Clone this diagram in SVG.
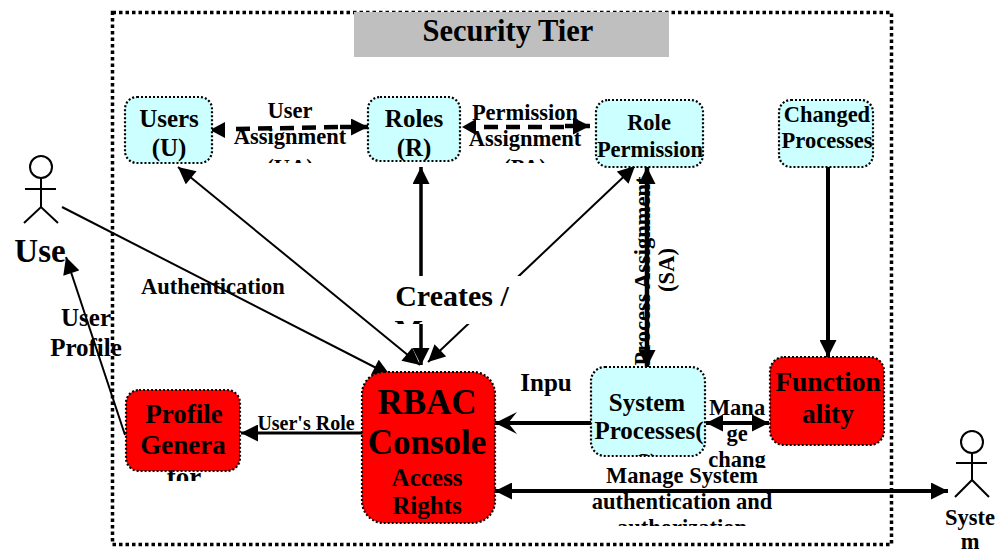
<svg xmlns="http://www.w3.org/2000/svg" width="995" height="550" viewBox="0 0 995 550">
<style>
text{font-family:"Liberation Serif","Times New Roman",serif;font-weight:bold;fill:#000;text-anchor:middle}
.n{stroke:#000;stroke-width:2.2;stroke-dasharray:2 2}
.c{fill:#ccffff}.r{fill:#ff0000}
.l{fill:none;stroke:#000}
.t20{font-size:22.500px}.t25{font-size:25px}.t27{font-size:27px}.t35{font-size:35.500px}
.a{stroke:#000;stroke-width:2;fill:none}
</style>
<defs>
<marker id="ah" viewBox="0 0 10 10" refX="10" refY="5" markerUnits="userSpaceOnUse" markerWidth="18" markerHeight="17" orient="auto-start-reverse"><path d="M0 0L10 5L0 10Z" fill="#000"/></marker>
<marker id="op" viewBox="0 0 10 10" refX="10" refY="5" markerUnits="userSpaceOnUse" markerWidth="22" markerHeight="24" orient="auto-start-reverse"><path d="M0 0L10 5L0 10L4 5Z" fill="#000"/></marker>
<clipPath id="cu"><rect x="220" y="95" width="140" height="68"/></clipPath>
<clipPath id="cp"><rect x="464" y="95" width="130" height="68"/></clipPath>
<clipPath id="cc"><rect x="380" y="276" width="140" height="48"/></clipPath>
<clipPath id="cg"><rect x="126" y="390" width="114" height="91"/></clipPath>
<clipPath id="cs"><rect x="591" y="367" width="116" height="89"/></clipPath>
<clipPath id="cm"><rect x="705" y="395" width="65" height="73"/></clipPath>
<clipPath id="ca"><rect x="560" y="462" width="240" height="64"/></clipPath>
</defs>

<g id="tier">
<rect x="112.500" y="12.500" width="779" height="532" fill="none" stroke="#000" stroke-width="3.500" stroke-dasharray="3.500 3"/>
<rect x="354" y="12" width="315" height="45" fill="#bfbfbf"/>
<text x="508" y="41" style="font-size:30.500px">Security Tier</text>
</g>

<g id="connectors">
<path class="l" stroke-width="4.500" stroke-dasharray="14 8" d="M236 129L340 127"/>
<path class="l" stroke-width="4.500" d="M340 127H368" marker-end="url(#ah)"/>
<path d="M210 130L225 122V138Z" fill="#000"/>
<path class="l" stroke-width="4.500" stroke-dasharray="14 8" d="M484 127H565"/>
<path class="l" stroke-width="4.500" d="M565 126H590" marker-end="url(#ah)"/>
<path d="M462 127L476 119V135Z" fill="#000"/>
<path class="a" d="M178 167L420 365" marker-start="url(#ah)" marker-end="url(#ah)"/>
<path class="a" style="stroke-width:3.500" d="M421 167V365" marker-start="url(#ah)" marker-end="url(#ah)"/>
<path class="a" d="M635 166L428 362" marker-start="url(#ah)" marker-end="url(#ah)"/>
<path class="a" d="M62 207L390 375" marker-end="url(#ah)"/>
<path class="a" d="M125 435L66 257" marker-end="url(#ah)"/>
<path class="a" style="stroke-width:3" d="M362 433H241" marker-end="url(#ah)"/>
<path class="a" style="stroke-width:4" d="M591 423H495" marker-end="url(#op)"/>
<path class="a" style="stroke-width:4.500" d="M647 167V367" marker-start="url(#ah)" marker-end="url(#ah)"/>
<path class="a" style="stroke-width:4" d="M828 167V357" marker-end="url(#ah)"/>
<path class="a" style="stroke-width:4" d="M706 423H769" marker-start="url(#ah)" marker-end="url(#ah)"/>
<path class="a" style="stroke-width:4" d="M495 491H948" marker-start="url(#ah)" marker-end="url(#ah)"/>
</g>

<g id="users"><rect class="n c" x="125" y="97" width="87" height="66" rx="12"/>
<text class="t25" x="169" y="127">Users</text><text class="t25" x="169" y="156">(U)</text></g>
<g id="roles"><rect class="n c" x="368" y="97" width="92" height="64" rx="12"/>
<text class="t25" x="414" y="127">Roles</text><text class="t25" x="414" y="156">(R)</text></g>
<g id="role-permission"><rect class="n c" x="596" y="100" width="107" height="67" rx="12"/>
<text class="t20" x="649" y="130">Role</text><text class="t20" x="650" y="157">Permission</text></g>
<g id="changed-processes"><rect class="n c" x="779" y="100" width="94" height="67" rx="12"/>
<text class="t20" x="827" y="122">Changed</text><text class="t20" x="827" y="148">Processes</text></g>
<g id="system-processes"><rect class="n c" x="591" y="367" width="114" height="89" rx="14"/>
<g clip-path="url(#cs)"><text class="t25" x="647" y="411">System</text><text class="t25" x="649" y="439">Processes(</text><text class="t25" x="647" y="471">S)</text></g></g>
<g id="functionality"><rect class="n r" x="770" y="357" width="114" height="88" rx="14"/>
<text x="828" y="391" style="font-size:27.500px">Function</text><text x="828" y="423" style="font-size:27.500px">ality</text></g>
<g id="rbac-console"><rect class="n r" x="362" y="372" width="133" height="151" rx="22"/>
<text x="427" y="414" style="font-size:35px">RBAC</text><text x="427" y="454" style="font-size:35px">Console</text>
<text class="t25" x="427" y="486">Access</text><text class="t25" x="427" y="514">Rights</text></g>
<g id="profile-generator"><rect class="n r" x="126" y="390" width="114" height="81" rx="13"/>
<g clip-path="url(#cg)"><text class="t27" x="184" y="423">Profile</text><text class="t27" x="183" y="454">Genera</text><text class="t27" x="184" y="486">tor</text></g></g>

<g id="user-actor" fill="none" stroke="#000" stroke-width="2">
<circle cx="41" cy="167" r="11"/><path d="M41 178V207M25 189H56M24 223L41 207L58 223"/>
<text x="40" y="262" stroke="none" style="font-size:33px">Use</text></g>
<g id="system-actor" fill="none" stroke="#000" stroke-width="2">
<circle cx="972" cy="442" r="11"/><path d="M972 453V480M956 463H987M955 497L972 480L989 497"/>
<text x="970" y="525" stroke="none" class="t20">Syste</text><text x="970" y="549" stroke="none" class="t20">m</text></g>

<g id="labels">
<g clip-path="url(#cu)"><text class="t20" x="290" y="118">User</text><text class="t20" x="290" y="144">Assignment</text><text class="t20" x="290" y="175">(UA)</text></g>
<g clip-path="url(#cp)"><text class="t20" x="525" y="120">Permission</text><text class="t20" x="525" y="146">Assignment</text><text class="t20" x="525" y="175">(PA)</text></g>
<rect x="380" y="276" width="140" height="48" fill="#fff"/>
<g clip-path="url(#cc)"><text x="452" y="306" style="font-size:30px">Creates /</text><text x="452" y="340" style="font-size:30px">Manages</text></g>
<text class="t20" x="213" y="294">Authentication</text>
<text x="86" y="326" style="font-size:25px">User</text><text x="86" y="356" style="font-size:25px">Profile</text>
<text x="306" y="430" style="font-size:20px">User's Role</text>
<text class="t25" x="546" y="391">Inpu</text>
<g clip-path="url(#cm)"><text class="t20" x="737" y="415">Mana</text><text class="t20" x="737" y="441">ge</text><text class="t20" x="737" y="467">chang</text></g>
<g clip-path="url(#ca)"><text class="t20" x="682" y="483">Manage System</text><text class="t20" x="682" y="509">authentication and</text><text class="t20" x="682" y="535">authorization</text></g>
<text class="t20" transform="translate(650 271) rotate(-90)">Process Assignment</text>
<text class="t20" transform="translate(674 270) rotate(-90)">(SA)</text>
</g>
</svg>
